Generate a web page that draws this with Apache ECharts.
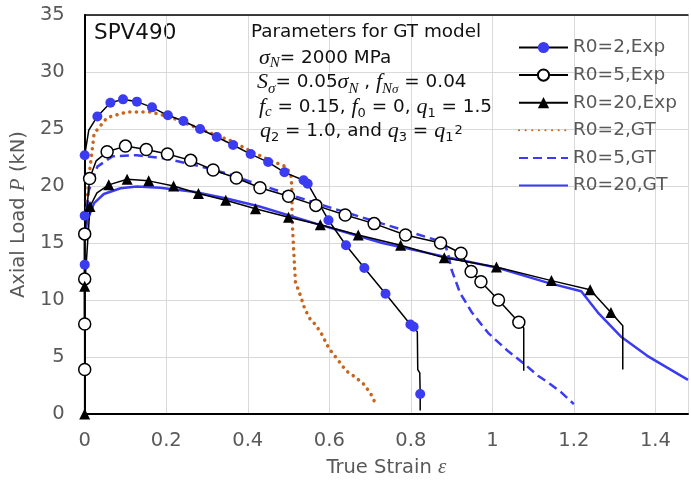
<!DOCTYPE html>
<html>
<head>
<meta charset="utf-8">
<script src="https://cdn.jsdelivr.net/npm/echarts@6/dist/echarts.min.js"></script>
<style>
  html, body { margin: 0; padding: 0; background: #ffffff; }
  #chart { width: 691px; height: 483px; }
</style>
</head>
<body>
<div id="chart"></div>
<script>
// Axis ticks
const xTicks = [0, 0.2, 0.4, 0.6, 0.8, 1, 1.2, 1.4];
const yTicks = [0, 5, 10, 15, 20, 25, 30, 35];

// Experimental curves: full traced path [strain, load] and the measured marker points
const r2ExpPath = [[0, 0], [0, 13.1], [0, 17.4], [0, 22.7], [0.01, 24.9], [0.031, 26.1], [0.063, 27.3], [0.094, 27.6],
  [0.128, 27.4], [0.165, 26.9], [0.204, 26.2], [0.242, 25.7], [0.283, 25.0], [0.324, 24.3], [0.364, 23.6],
  [0.407, 22.8], [0.45, 22.1], [0.49, 21.2], [0.537, 20.5], [0.547, 20.2], [0.598, 17.0], [0.641, 14.8],
  [0.686, 12.8], [0.738, 10.55], [0.799, 7.85], [0.807, 7.65], [0.816, 7.2], [0.817, 3.9], [0.822, 3.6],
  [0.823, 1.75], [0.823, 0.3]];
const r2ExpMarks = [[0, 13.1], [0, 17.4], [0, 22.7], [0.031, 26.1], [0.063, 27.3], [0.094, 27.6], [0.128, 27.4],
  [0.165, 26.9], [0.204, 26.2], [0.242, 25.7], [0.283, 25.0], [0.324, 24.3], [0.364, 23.6], [0.407, 22.8],
  [0.45, 22.1], [0.49, 21.2], [0.537, 20.5], [0.547, 20.2], [0.598, 17.0], [0.641, 14.8], [0.686, 12.8],
  [0.738, 10.55], [0.799, 7.85], [0.807, 7.65], [0.823, 1.75]];

const r5ExpPath = [[0, 0], [0, 3.9], [0, 7.9], [0, 11.85], [0, 15.8], [0.012, 20.65], [0.028, 22.2], [0.055, 23.0],
  [0.1, 23.5], [0.151, 23.2], [0.203, 22.8], [0.26, 22.25], [0.315, 21.4], [0.372, 20.7], [0.43, 19.85],
  [0.5, 19.1], [0.567, 18.3], [0.639, 17.45], [0.71, 16.7], [0.787, 15.7], [0.873, 15.0], [0.923, 14.1],
  [0.948, 12.5], [0.972, 11.6], [1.015, 10.0], [1.065, 8.05], [1.077, 7.55], [1.077, 3.8]];
const r5ExpMarks = [[0, 3.9], [0, 7.9], [0, 11.85], [0, 15.8], [0.012, 20.65], [0.055, 23.0], [0.1, 23.5],
  [0.151, 23.2], [0.203, 22.8], [0.26, 22.25], [0.315, 21.4], [0.372, 20.7], [0.43, 19.85], [0.5, 19.1],
  [0.567, 18.3], [0.639, 17.45], [0.71, 16.7], [0.787, 15.7], [0.873, 15.0], [0.923, 14.1], [0.948, 12.5],
  [0.972, 11.6], [1.015, 10.0], [1.065, 8.05]];

const r20ExpPath = [[0, 0], [0, 11.2], [0.013, 18.2], [0.03, 19.4], [0.059, 20.1], [0.104, 20.6], [0.157, 20.45],
  [0.218, 20.0], [0.279, 19.35], [0.346, 18.75], [0.419, 18.0], [0.5, 17.25], [0.578, 16.6], [0.671, 15.7],
  [0.775, 14.8], [0.882, 13.7], [1.01, 12.9], [1.145, 11.7], [1.24, 10.9], [1.291, 8.9], [1.32, 7.75], [1.32, 3.9]];
const r20ExpMarks = [[0, 0], [0, 11.2], [0.013, 18.2], [0.059, 20.1], [0.104, 20.6], [0.157, 20.45], [0.218, 20.0],
  [0.279, 19.35], [0.346, 18.75], [0.419, 18.0], [0.5, 17.25], [0.578, 16.6], [0.671, 15.7], [0.775, 14.8],
  [0.882, 13.7], [1.01, 12.9], [1.145, 11.7], [1.24, 10.9], [1.291, 8.9]];

// GT model predictions
const r2Gt = [[0.003, 17.5], [0.01, 20.7], [0.023, 24.6], [0.055, 26.0], [0.104, 26.5], [0.161, 26.5], [0.21, 26.05],
  [0.283, 25.0], [0.356, 24.0], [0.405, 23.1], [0.454, 22.25], [0.494, 21.7], [0.506, 20.95], [0.508, 19.9],
  [0.509, 17.0], [0.513, 14.1], [0.517, 11.6], [0.53, 10.3], [0.54, 9.2], [0.555, 8.2], [0.565, 7.9], [0.58, 7.1],
  [0.6, 5.7], [0.62, 4.8], [0.641, 3.8], [0.665, 3.2], [0.685, 2.6], [0.702, 1.75], [0.715, 0.8]];
const r5Gt = [[0.002, 15.5], [0.004, 17.3], [0.01, 19.6], [0.031, 21.7], [0.068, 22.6], [0.128, 22.7], [0.2, 22.4],
  [0.275, 21.8], [0.348, 21.1], [0.405, 20.4], [0.567, 18.5], [0.73, 16.7], [0.877, 15.1], [0.885, 14.8],
  [0.893, 13.8], [0.9, 12.65], [0.921, 10.6], [0.95, 8.9], [0.99, 7.1], [1.039, 5.5], [1.08, 4.35], [1.112, 3.35],
  [1.137, 2.76], [1.169, 1.9], [1.2, 0.87]];
const r20Gt = [[0, 7.7], [0, 15.55], [0.0065, 17.0], [0.023, 18.5], [0.047, 19.3], [0.088, 19.8], [0.128, 19.95],
  [0.185, 19.85], [0.267, 19.5], [0.348, 18.9], [0.429, 18.2], [0.567, 16.7], [0.73, 15.0], [0.877, 13.85],
  [1.015, 12.8], [1.137, 11.5], [1.218, 10.76], [1.259, 8.9], [1.315, 6.8], [1.38, 5.1], [1.48, 3.0]];

const FONT = 'DejaVu Sans';
const MATH = 'Liberation Serif';
const GREY = '#595959';
const INK = '#111111';
const BLUE = '#3b3bf2';
const ORANGE = '#c8641e';

// Only the measured points get a marker; connecting segments stay plain
function withMarks(path, marks) {
  const keys = new Set(marks.map(p => p[0] + ',' + p[1]));
  return path.map(p => keys.has(p[0] + ',' + p[1]) ? p : { value: p, symbol: 'none' });
}

const chart = echarts.init(document.getElementById('chart'), null, { renderer: 'canvas' });

// Rich-text styles for the model parameter block (sub/superscripts via vertical alignment in the line box)
const rich = {
  t: { fontFamily: FONT, fontSize: 18.4, lineHeight: 26, verticalAlign: 'middle', color: INK },
  m: { fontFamily: MATH, fontStyle: 'italic', fontSize: 22, lineHeight: 26, verticalAlign: 'middle', color: INK },
  si: { fontFamily: MATH, fontStyle: 'italic', fontSize: 15, lineHeight: 25, verticalAlign: 'bottom', color: INK },
  sn: { fontFamily: FONT, fontSize: 13, lineHeight: 25, verticalAlign: 'bottom', color: INK },
  ssi: { fontFamily: MATH, fontStyle: 'italic', fontSize: 13, lineHeight: 29, verticalAlign: 'bottom', color: INK },
  sup: { fontFamily: FONT, fontSize: 13, lineHeight: 13, verticalAlign: 'top', padding: [6, 0, 0, 1], color: INK }
};

function note(x, y, text) {
  return { type: 'text', x: x, y: y, z: 10,
    style: { text: text, rich: rich, align: 'left', verticalAlign: 'middle', fontFamily: FONT, fontSize: 18.4, fill: INK } };
}

chart.setOption({
  animation: false,
  backgroundColor: '#ffffff',
  grid: { left: 84, right: 0, top: 15, bottom: 68 },
  legend: {
    orient: 'vertical',
    left: 513,
    top: 33,
    itemWidth: 49,
    itemHeight: 14,
    itemGap: 8.6,
    textStyle: { fontFamily: FONT, fontSize: 18.5, color: GREY, lineHeight: 18 },
    data: ['R0=2,Exp', 'R0=5,Exp', 'R0=20,Exp', 'R0=2,GT', 'R0=5,GT', 'R0=20,GT']
  },
  xAxis: [{
    type: 'value', min: 0, max: 1.48, interval: 0.2,
    name: 'True Strain {e|ε}',
    nameLocation: 'middle', nameGap: 43,
    nameTextStyle: { fontFamily: FONT, fontSize: 19.5, color: GREY,
      rich: { e: { fontFamily: MATH, fontStyle: 'italic', fontSize: 21, color: GREY } } },
    axisLine: { show: true, onZero: false, lineStyle: { color: '#000', width: 2 } },
    axisTick: { show: false },
    axisLabel: { margin: 17, fontFamily: FONT, fontSize: 19.5, color: GREY,
      formatter: v => xTicks.some(t => Math.abs(t - v) < 1e-9) ? String(+v.toFixed(1)) : '' },
    splitLine: { show: true, lineStyle: { color: '#d9d9d9', width: 1 } }
  }, {
    type: 'value', min: 0, max: 1.48, position: 'top',
    axisLine: { show: true, onZero: false, lineStyle: { color: '#000', width: 1.5 } },
    axisTick: { show: false }, axisLabel: { show: false }, splitLine: { show: false }
  }],
  yAxis: {
    type: 'value', min: 0, max: 35, interval: 5,
    name: 'Axial Load {p|P} (kN)',
    nameLocation: 'middle', nameGap: 40, nameRotate: 90,
    nameTextStyle: { fontFamily: FONT, fontSize: 19.5, color: GREY,
      rich: { p: { fontFamily: MATH, fontStyle: 'italic', fontSize: 21, color: GREY } } },
    axisLine: { show: true, onZero: false, lineStyle: { color: '#000', width: 2 } },
    axisTick: { show: false },
    axisLabel: { margin: 20, fontFamily: FONT, fontSize: 19.5, color: GREY,
      formatter: v => yTicks.indexOf(v) >= 0 ? String(v) : '' },
    splitLine: { show: true, lineStyle: { color: '#d9d9d9', width: 1 } }
  },
  graphic: [
    { type: 'text', x: 94, y: 33, style: { text: 'SPV490', fontFamily: FONT, fontSize: 21.5, fill: INK, verticalAlign: 'middle' } },
    note(251, 32, '{t|Parameters for GT model}'),
    note(259, 58, '{m|σ}{si|N}{t|= 2000 MPa}'),
    note(257, 82, '{m|S}{si|σ}{t|= 0.05}{m|σ}{si|N}{t| , }{m|f}{si|N}{ssi|σ}{t| = 0.04}'),
    note(259, 107, '{m|f}{si|c}{t| = 0.15, }{m|f}{sn|0}{t| = 0, }{m|q}{sn|1}{t| = 1.5}'),
    note(260, 131, '{m|q}{sn|2}{t| = 1.0, and }{m|q}{sn|3}{t| = }{m|q}{sn|1}{sup|2}')
  ],
  series: [
    {
      name: 'R0=2,Exp', type: 'line', z: 4,
      data: withMarks(r2ExpPath, r2ExpMarks),
      symbol: 'circle', symbolSize: 10,
      itemStyle: { color: BLUE, borderWidth: 0 },
      lineStyle: { color: '#000', width: 1.5 }
    },
    {
      name: 'R0=5,Exp', type: 'line', z: 4,
      data: withMarks(r5ExpPath, r5ExpMarks),
      symbol: 'circle', symbolSize: 12,
      itemStyle: { color: '#fff', borderColor: '#000', borderWidth: 1.5 },
      lineStyle: { color: '#000', width: 1.5 }
    },
    {
      name: 'R0=20,Exp', type: 'line', z: 4,
      data: withMarks(r20ExpPath, r20ExpMarks),
      symbol: 'triangle', symbolSize: 11,
      itemStyle: { color: '#000' },
      lineStyle: { color: '#000', width: 1.5 }
    },
    {
      name: 'R0=2,GT', type: 'line', z: 3, data: r2Gt, symbol: 'none',
      itemStyle: { color: ORANGE, opacity: 0 },
      lineStyle: { color: ORANGE, width: 3.5, type: [0.1, 6.5], cap: 'round' }
    },
    {
      name: 'R0=5,GT', type: 'line', z: 3, data: r5Gt, symbol: 'none',
      itemStyle: { color: BLUE, opacity: 0 },
      lineStyle: { color: BLUE, width: 2.5, type: [9, 5] }
    },
    {
      name: 'R0=20,GT', type: 'line', z: 3, data: r20Gt, symbol: 'none',
      itemStyle: { color: BLUE, opacity: 0 },
      lineStyle: { color: BLUE, width: 2.5 }
    }
  ]
});
</script>
</body>
</html>
